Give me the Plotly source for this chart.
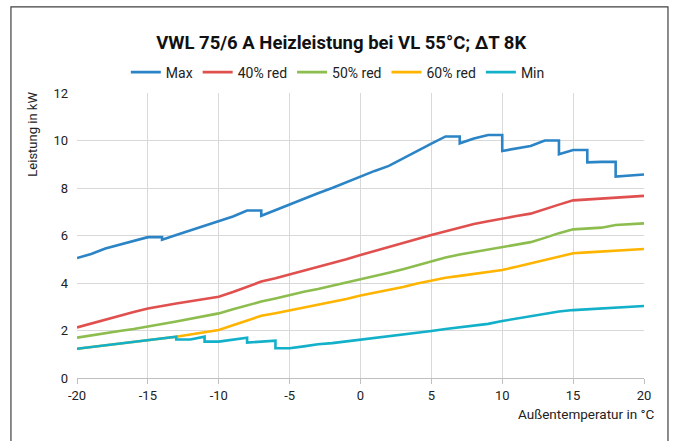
import plotly.graph_objects as go

temps = list(range(-20, 21))

max_x = [-20,-19,-18,-17,-16,-15,-14,-14,-13,-12,-11,-10,-9,-8,-7,-7,-6,-5,-4,-3,-2,-1,0,1,2,3,4,5,6,7,7,8,9,10,10,11,12,13,14,14,15,16,16,17,18,18,19,20]
max_y = [5.05,5.22,5.45,5.6,5.75,5.93,5.93,5.82,6.02,6.22,6.42,6.6,6.8,7.05,7.05,6.83,7.07,7.32,7.56,7.78,8.0,8.25,8.5,8.72,8.93,9.25,9.55,9.87,10.17,10.17,9.88,10.08,10.23,10.23,9.56,9.67,9.77,10.0,10.0,9.42,9.6,9.6,9.08,9.1,9.1,8.48,8.52,8.57]

red40 = [2.13,2.3,2.47,2.63,2.78,2.93,3.05,3.14,3.23,3.32,3.42,3.62,3.85,4.06,4.2,4.36,4.5,4.65,4.82,5.0,5.18,5.34,5.5,5.67,5.85,6.02,6.18,6.33,6.48,6.6,6.72,6.82,6.92,7.12,7.3,7.48,7.52,7.56,7.6,7.63,7.67]
red50 = [1.7,1.8,1.9,1.98,2.06,2.18,2.27,2.38,2.5,2.61,2.72,2.89,3.07,3.22,3.35,3.5,3.63,3.75,3.88,4.02,4.17,4.29,4.43,4.58,4.75,4.9,5.07,5.2,5.3,5.42,5.53,5.63,5.72,5.9,6.1,6.26,6.3,6.33,6.44,6.48,6.51]
red60 = [1.23,1.3,1.37,1.45,1.52,1.6,1.67,1.74,1.83,1.93,2.02,2.22,2.42,2.62,2.73,2.85,2.96,3.07,3.2,3.33,3.47,3.58,3.7,3.83,3.98,4.1,4.22,4.3,4.38,4.46,4.55,4.68,4.83,4.97,5.12,5.25,5.29,5.33,5.36,5.4,5.43]

min_x = [-20,-19,-18,-17,-16,-15,-14,-13,-13,-12,-11,-11,-10,-9,-8,-8,-7,-6,-6] + list(range(-5, 21))
min_y = [1.23,1.3,1.37,1.45,1.52,1.6,1.67,1.74,1.62,1.62,1.74,1.53,1.53,1.62,1.7,1.49,1.52,1.57,1.25,
         1.25,1.33,1.42,1.47,1.54,1.61,1.67,1.75,1.83,1.9,1.98,2.06,2.13,2.2,2.28,2.4,2.5,2.63,2.72,2.8,2.86,2.9,2.94,2.97,3.0,3.03]

x_ticks = [-20, -15, -10, -5, 0, 5, 10, 15, 20]
y_ticks = [0, 2, 4, 6, 8, 10, 12]

title_text = "VWL 75/6 A Heizleistung bei VL 55°C; ΔT 8K"
x_title = "Außentemperatur in °C"
y_title = "Leistung in kW"

FONT = "Roboto, Liberation Sans, sans-serif"

series = [
    ("Max", max_x, max_y, "#2b84c6"),
    ("40% red", temps, red40, "#e0504e"),
    ("50% red", temps, red50, "#8cbd4e"),
    ("60% red", temps, red60, "#ffb400"),
    ("Min", min_x, min_y, "#12b0c9"),
]

fig = go.Figure()
for name, xs, ys, col in series:
    fig.add_trace(go.Scatter(x=xs, y=ys, name=name, mode="lines",
                             line=dict(color=col, width=2.6)))

fig.update_layout(
    width=677, height=441,
    margin=dict(l=77, r=33, t=93, b=63),
    paper_bgcolor="white", plot_bgcolor="white",
    showlegend=True,
    title=dict(text="<b>" + title_text + "</b>", x=0.504, xanchor="center",
               y=1 - 42.5 / 441, yanchor="middle", yref="container",
               font=dict(family=FONT, size=18.5, color="#111111")),
    legend=dict(orientation="h", x=0.46, xanchor="center", y=1.072, yanchor="middle",
                font=dict(family=FONT, size=14, color="#222222"),
                itemwidth=30, tracegroupgap=0, bgcolor="rgba(0,0,0,0)"),
    xaxis=dict(range=[-20, 20], tickvals=x_ticks, ticktext=[str(v) for v in x_ticks],
               showgrid=True, gridcolor="#d9d9d9", gridwidth=1,
               zeroline=False, showline=True, linecolor="#bfbfbf", linewidth=1,
               ticks="outside", ticklen=5, tickcolor="#bfbfbf",
               tickfont=dict(family=FONT, size=13, color="#222222")),
    yaxis=dict(range=[0, 12], tickvals=y_ticks, ticktext=[str(v) for v in y_ticks],
               showgrid=True, gridcolor="#d9d9d9", gridwidth=1,
               zeroline=False, showline=False, ticks="",
               ticklabelstandoff=8,
               tickfont=dict(family=FONT, size=13, color="#222222")),
    annotations=[
        dict(text=x_title, xref="paper", yref="paper", x=1.023, y=-0.126,
             xanchor="right", yanchor="middle", showarrow=False,
             font=dict(family=FONT, size=13.5, color="#222222")),
        dict(text=y_title, xref="paper", yref="paper", x=-0.0776, y=1.01,
             xanchor="center", yanchor="top", textangle=-90, showarrow=False,
             font=dict(family=FONT, size=13, color="#222222")),
    ],
    shapes=[dict(type="rect", xref="paper", yref="paper",
                 x0=-0.1165, x1=1.0423, y0=-0.25, y1=1.302,
                 line=dict(color="#404040", width=1.2), fillcolor="rgba(0,0,0,0)",
                 layer="below")],
)

fig.write_html("out.html", config={"displayModeBar": False},
               post_script="document.body.style.margin='0px';")
